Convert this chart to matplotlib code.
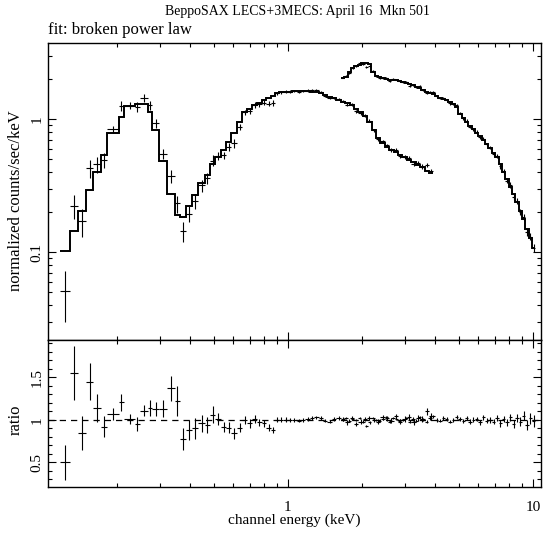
import matplotlib
matplotlib.use("Agg")
import matplotlib.pyplot as plt
import numpy as np
from matplotlib.ticker import LogLocator, MultipleLocator, FuncFormatter, NullFormatter

# LECS channel bin edges (keV)
lecs_edges = [
    0.1180, 0.1289, 0.1394, 0.1498, 0.1605, 0.1724, 0.1836, 0.2042, 0.2148, 0.2374,
    0.2488, 0.2691, 0.2795, 0.2975, 0.3228, 0.3467, 0.3623, 0.3859, 0.4069, 0.4305,
    0.4583, 0.4803, 0.5067, 0.5344, 0.5618, 0.5889, 0.6191, 0.6531, 0.6844, 0.7153,
    0.7497, 0.7830, 0.8182, 0.8551, 0.8877, 0.9218, 0.9600, 1.000,
    1.042, 1.086, 1.132, 1.180, 1.230, 1.282, 1.336, 1.393, 1.452, 1.513,
    1.577, 1.644, 1.714, 1.786, 1.862, 1.941, 2.023, 2.109, 2.198, 2.291,
    2.388, 2.489, 2.594, 2.704, 2.819, 2.938, 3.063, 3.192, 3.327, 3.468,
    3.615, 3.768, 3.928,
]
# folded model (counts/sec/keV) per LECS bin
lecs_model = [
    0.102, 0.144, 0.203, 0.293, 0.40, 0.536, 0.78, 1.04, 1.25, 1.30,
    1.30, 1.12, 0.82, 0.486, 0.273, 0.19, 0.184, 0.22, 0.268, 0.33,
    0.38, 0.46, 0.52, 0.58, 0.675, 0.78, 0.954, 1.12, 1.20, 1.27,
    1.33, 1.38, 1.43, 1.50, 1.56, 1.59, 1.61,
    1.61, 1.62, 1.62, 1.62, 1.62, 1.61, 1.60, 1.56, 1.51, 1.47,
    1.43, 1.38, 1.35, 1.32, 1.27, 1.20, 1.13, 1.05, 0.95, 0.82,
    0.72, 0.66, 0.62, 0.59, 0.565, 0.54, 0.515, 0.495, 0.475, 0.455,
    0.435, 0.41, 0.39,
]
# data / model ratio and its error per LECS bin
lecs_ratio = [
    0.50, 1.55, 0.84, 1.45, 1.14, 0.92, 1.07, 1.21, 1.01, 0.95,
    1.11, 1.14, 1.13, 1.13, 1.37, 1.22, 0.78, 0.88, 0.90, 0.96,
    0.94, 1.06, 1.01, 0.92, 0.91, 0.84, 0.91, 1.00, 0.96, 1.01,
    0.97, 0.96, 0.91, 0.88, 1.00, 1.00, 1.00,
    1.00, 1.00, 0.99, 1.00, 1.01, 1.02, 1.03, 1.02, 0.99, 0.98,
    1.01, 1.02, 1.01, 0.97, 1.02, 0.95, 0.98, 1.01, 1.02, 1.00,
    0.98, 1.03, 1.02, 0.99, 1.04, 0.98, 1.01, 1.03, 0.97, 1.02,
    1.01, 1.10, 1.04,
]
lecs_rerr = [
    0.21, 0.32, 0.20, 0.22, 0.16, 0.12, 0.07, 0.10, 0.06, 0.08,
    0.07, 0.09, 0.08, 0.10, 0.15, 0.18, 0.13, 0.12, 0.12, 0.10,
    0.09, 0.10, 0.07, 0.06, 0.06, 0.07, 0.05, 0.05, 0.05, 0.05,
    0.04, 0.04, 0.04, 0.04, 0.03, 0.03, 0.03,
    0.02, 0.02, 0.02, 0.02, 0.02, 0.02, 0.02, 0.02, 0.02, 0.02,
    0.02, 0.02, 0.02, 0.025, 0.025, 0.025, 0.025, 0.025, 0.025, 0.025,
    0.03, 0.03, 0.03, 0.03, 0.03, 0.03, 0.035, 0.035, 0.035, 0.035,
    0.04, 0.04, 0.04,
]

# MECS channel bin edges (keV)
mecs_edges = [
    1.650, 1.703, 1.757, 1.813, 1.871, 1.931, 1.993, 2.057, 2.122, 2.190,
    2.260, 2.333, 2.407, 2.484, 2.564, 2.646, 2.730, 2.818, 2.908, 3.001,
    3.097, 3.196, 3.298, 3.404, 3.512, 3.625, 3.741, 3.860, 3.984, 4.111,
    4.243, 4.378, 4.518, 4.663, 4.812, 4.966, 5.125, 5.289, 5.458, 5.632,
    5.813, 5.999, 6.191, 6.389, 6.593, 6.804, 7.022, 7.246, 7.478, 7.718,
    7.965, 8.219, 8.482, 8.754, 9.034, 9.323, 9.621, 9.929, 10.25,
]
mecs_model = [
    2.05, 2.06, 2.25, 2.40, 2.50, 2.57, 2.63, 2.66, 2.58, 2.25,
    2.12, 2.06, 2.02, 1.99, 1.98, 1.97, 1.96, 1.94, 1.90, 1.86,
    1.82, 1.79, 1.75, 1.71, 1.66, 1.61, 1.57, 1.53, 1.49, 1.45,
    1.41, 1.38, 1.34, 1.30, 1.24, 1.10, 1.02, 0.95, 0.89, 0.84,
    0.79, 0.75, 0.69, 0.65, 0.61, 0.56, 0.515, 0.46, 0.40, 0.355,
    0.31, 0.275, 0.237, 0.205, 0.176, 0.150, 0.128, 0.108,
]
mecs_ratio = [
    1.00, 1.02, 0.99, 1.01, 1.00, 1.02, 0.98, 0.93, 0.97, 1.02,
    1.00, 0.99, 1.01, 1.03, 0.98, 1.02, 1.01, 0.99, 1.00, 1.02,
    0.98, 1.01, 0.99, 1.03, 1.00, 0.98, 1.02, 1.04, 1.00, 0.99,
    1.02, 1.01, 0.98, 1.00, 1.03, 1.01, 0.99, 1.02, 0.98, 1.00,
    1.01, 0.97, 1.03, 0.99, 1.00, 0.98, 1.02, 0.96, 1.01, 0.97,
    1.03, 0.95, 1.02, 0.98, 1.05, 0.94, 1.02, 0.99,
]
mecs_rerr = [
    0.015, 0.015, 0.015, 0.015, 0.015, 0.015, 0.015, 0.015, 0.015, 0.015,
    0.015, 0.015, 0.015, 0.015, 0.015, 0.015, 0.015, 0.015, 0.015, 0.015,
    0.018, 0.018, 0.018, 0.018, 0.018, 0.018, 0.02, 0.02, 0.02, 0.02,
    0.02, 0.022, 0.022, 0.022, 0.022, 0.025, 0.025, 0.025, 0.025, 0.028,
    0.028, 0.028, 0.03, 0.03, 0.032, 0.034, 0.036, 0.038, 0.04, 0.042,
    0.045, 0.048, 0.05, 0.053, 0.056, 0.06, 0.065, 0.07,
]

plt.rcParams["font.family"] = ["Liberation Serif", "DejaVu Serif"]
plt.rcParams["font.size"] = 11


def plot_instrument(ax_top, ax_rat, edges, model, ratio, rerr):
    edges = np.asarray(edges)
    model = np.asarray(model)
    ratio = np.asarray(ratio)
    rerr = np.asarray(rerr)
    lo, hi = edges[:-1], edges[1:]
    cen = 0.5 * (lo + hi)
    xerr = [cen - lo, hi - cen]
    # data = ratio * model, as in the fit output
    ax_top.errorbar(cen, ratio * model, xerr=xerr, yerr=rerr * model,
                    fmt="none", ecolor="black", elinewidth=0.8)
    ax_top.stairs(model, edges, baseline=None, color="black", lw=1.4)
    ax_rat.errorbar(cen, ratio, xerr=xerr, yerr=rerr,
                    fmt="none", ecolor="black", elinewidth=0.8)


def style_axis(ax):
    ax.tick_params(which="both", direction="in", top=True, right=True, width=0.8)
    ax.tick_params(which="major", length=6)
    ax.tick_params(which="minor", length=3)
    ax.tick_params(axis="y", labelrotation=90)
    for lab in ax.get_yticklabels():
        lab.set_va("center")
    for sp in ax.spines.values():
        sp.set_linewidth(1.0)


fig = plt.figure(figsize=(5.43, 5.36), dpi=100)
W, H = 543.0, 536.0
ax_top = fig.add_axes([48 / W, 1 - 340 / H, 493 / W, 297 / H])
ax_rat = fig.add_axes([48 / W, 1 - 487 / H, 493 / W, 147 / H], sharex=ax_top)

plot_instrument(ax_top, ax_rat, lecs_edges, lecs_model, lecs_ratio, lecs_rerr)
plot_instrument(ax_top, ax_rat, mecs_edges, mecs_model, mecs_ratio, mecs_rerr)
ax_rat.axhline(1.0, color="black", lw=0.9, ls=(0, (5, 4)))

fmt = FuncFormatter(lambda v, _: "{:g}".format(v))
ax_top.set_xscale("log")
ax_top.set_yscale("log")
ax_top.set_xlim(0.105, 10.8)
ax_top.set_ylim(0.0218, 3.73)
ax_rat.set_ylim(0.21, 1.94)

ax_top.yaxis.set_major_locator(LogLocator(base=10))
ax_top.yaxis.set_minor_locator(LogLocator(base=10, subs=np.arange(2, 10)))
ax_top.yaxis.set_major_formatter(fmt)
ax_top.yaxis.set_minor_formatter(NullFormatter())
ax_rat.xaxis.set_major_locator(LogLocator(base=10))
ax_rat.xaxis.set_minor_locator(LogLocator(base=10, subs=np.arange(2, 10)))
ax_rat.xaxis.set_major_formatter(fmt)
ax_rat.xaxis.set_minor_formatter(NullFormatter())
ax_rat.yaxis.set_major_locator(MultipleLocator(0.5))
ax_rat.yaxis.set_minor_locator(MultipleLocator(0.1))
ax_rat.yaxis.set_major_formatter(fmt)

style_axis(ax_top)
style_axis(ax_rat)
ax_top.tick_params(axis="x", labelbottom=False)
ax_rat.tick_params(axis="x", pad=10)
ax_top.tick_params(axis="y", pad=3)
ax_rat.tick_params(axis="y", pad=3)

ax_top.set_ylabel("normalized counts/sec/keV", fontsize=12)
ax_top.yaxis.set_label_coords(-0.049, 0.47)
ax_rat.set_ylabel("ratio", fontsize=12)
ax_rat.yaxis.set_label_coords(-0.049, 0.46)
ax_rat.set_xlabel("channel energy (keV)", fontsize=11)
ax_rat.xaxis.set_label_coords(0.5, -0.18)

fig.text(297 / W, 1 - 12 / H, "BeppoSAX LECS+3MECS: April 16  Mkn 501",
         ha="center", va="center", fontsize=10)
fig.text(48 / W, 1 - 30 / H, "fit: broken power law",
         ha="left", va="center", fontsize=12)

fig.savefig("out.png", dpi=100)
